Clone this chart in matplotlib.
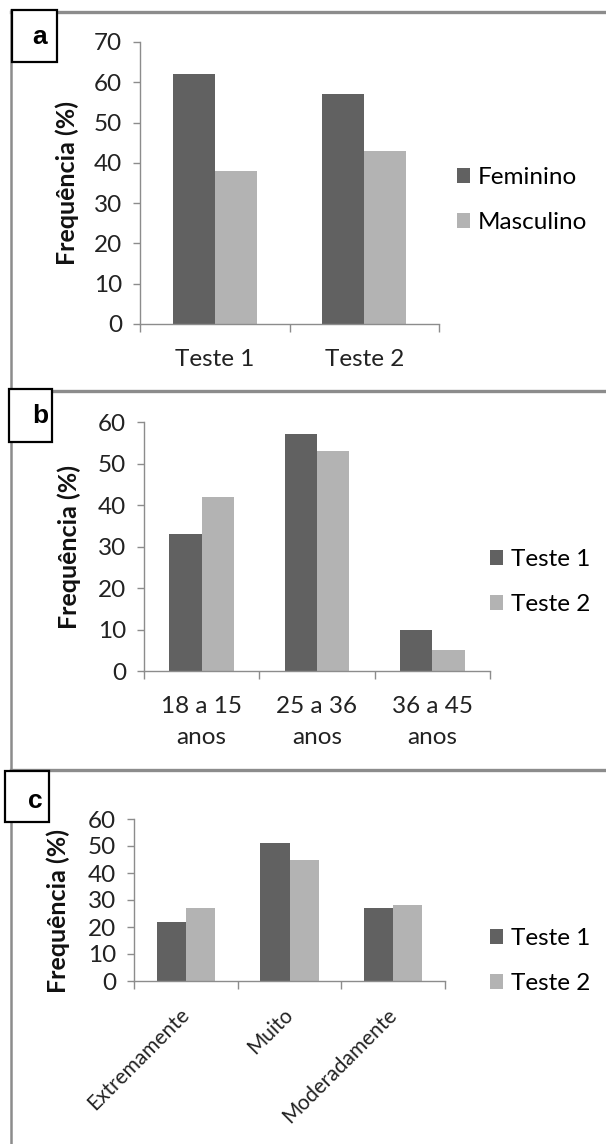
"""Three-panel grouped bar chart (frequency by sex, age group and level)."""

import matplotlib
matplotlib.use("Agg")
import matplotlib.pyplot as plt
import numpy as np
from matplotlib.lines import Line2D
from matplotlib.patches import Rectangle

# panel a
cats_a = ["Teste 1", "Teste 2"]
feminino = [62, 57]
masculino = [38, 43]

# panel b
cats_b = ["18 a 15\nanos", "25 a 36\nanos", "36 a 45\nanos"]
teste1_b = [33, 57, 10]
teste2_b = [42, 53, 5]

# panel c
cats_c = ["Extremamente", "Muito", "Moderadamente"]
teste1_c = [22, 51, 27]
teste2_c = [27, 45, 28]

DARK = "#616161"
LIGHT = "#b3b3b3"
AXCOL = "#8c8c8c"
FRAME = "#8c8c8c"
FONT = "Lato"
FS = 17.5

W, H = 606, 1144
plt.rcParams["font.family"] = [FONT, "DejaVu Sans"]

fig = plt.figure(figsize=(W / 100, H / 100), dpi=100)


def px_axes(x0, x1, ytop, ybot):
    return fig.add_axes([x0 / W, 1 - ybot / H, (x1 - x0) / W, (ybot - ytop) / H])


def grouped(ax, cats, s1, s2, labels, ymax, lab_x, lab_y, leg_x, leg_y, rot=False):
    x = np.arange(len(cats))
    w = 0.28
    ax.bar(x - w / 2, s1, w, color=DARK, label=labels[0])
    ax.bar(x + w / 2, s2, w, color=LIGHT, label=labels[1])
    ax.set_xlim(-0.5, len(cats) - 0.5)
    ax.set_ylim(0, ymax)
    ax.set_yticks(np.arange(0, ymax + 1, 10))
    ax.set_xticks(x)
    if rot:
        ax.set_xticklabels(cats, rotation=45, ha="right", va="center",
                           rotation_mode="anchor", fontsize=15)
        ax.tick_params(axis="x", which="major", length=0, pad=22, labelcolor="#222222")
    else:
        ax.set_xticklabels(cats, linespacing=1.6)
        ax.tick_params(axis="x", which="major", length=0, pad=18,
                       labelsize=FS, labelcolor="#222222")
    ax.set_xticks(np.arange(-0.5, len(cats), 1.0), minor=True)
    ax.tick_params(axis="x", which="minor", length=6, width=1, color=AXCOL, direction="out")
    ax.tick_params(axis="y", length=5, width=1, color=AXCOL, pad=8,
                   labelsize=FS, labelcolor="#222222")
    for s in ["top", "right"]:
        ax.spines[s].set_visible(False)
    for s in ["left", "bottom"]:
        ax.spines[s].set_color(AXCOL)
        ax.spines[s].set_linewidth(1)
    ax.set_ylabel("Frequência (%)", fontsize=18, fontweight="bold", color="#111111")
    ax.yaxis.set_label_coords(lab_x, lab_y)
    ax.legend(loc="center left", bbox_to_anchor=(leg_x / W, 1 - leg_y / H),
              bbox_transform=fig.transFigure, frameon=False, fontsize=FS,
              handlelength=0.55, handleheight=0.55, handletextpad=0.3,
              labelspacing=1.0, borderpad=0, borderaxespad=0)


ax_a = px_axes(140, 439, 42, 324)
grouped(ax_a, cats_a, feminino, masculino, ["Feminino", "Masculino"], 70,
        -0.204, 0.5, 457, 200)

ax_b = px_axes(144, 490, 422, 671)
grouped(ax_b, cats_b, teste1_b, teste2_b, ["Teste 1", "Teste 2"], 60,
        -0.182, 0.5, 490, 582)

ax_c = px_axes(134, 445, 819, 981)
grouped(ax_c, cats_c, teste1_c, teste2_c, ["Teste 1", "Teste 2"], 60,
        -0.206, 0.43, 490, 961, rot=True)


# outer frame and panel separators
def hline(y, x0=11, x1=W):
    fig.add_artist(Line2D([x0 / W, x1 / W], [1 - y / H, 1 - y / H],
                          color=FRAME, lw=2.4, transform=fig.transFigure))


fig.add_artist(Line2D([11 / W, 11 / W], [1 - 10 / H, 0], color=FRAME, lw=1.8,
                      transform=fig.transFigure))
hline(11.5)
hline(391)
hline(770)


# panel letters
def letter(txt, x0, x1, y0, y1, tx, ty):
    fig.add_artist(Rectangle((x0 / W, 1 - y1 / H), (x1 - x0) / W, (y1 - y0) / H,
                             facecolor="white", edgecolor="black", lw=1.6,
                             transform=fig.transFigure, zorder=5))
    fig.text(tx / W, 1 - ty / H, txt, ha="center", va="center", fontsize=19,
             fontweight="bold", family="Liberation Sans", zorder=6)


letter("a", 12, 57, 10, 62, 39.5, 37)
letter("b", 8.5, 51.5, 388.5, 442, 40, 416)
letter("c", 4.5, 49, 771, 822, 35, 801)

fig.savefig("out.png", dpi=100)
